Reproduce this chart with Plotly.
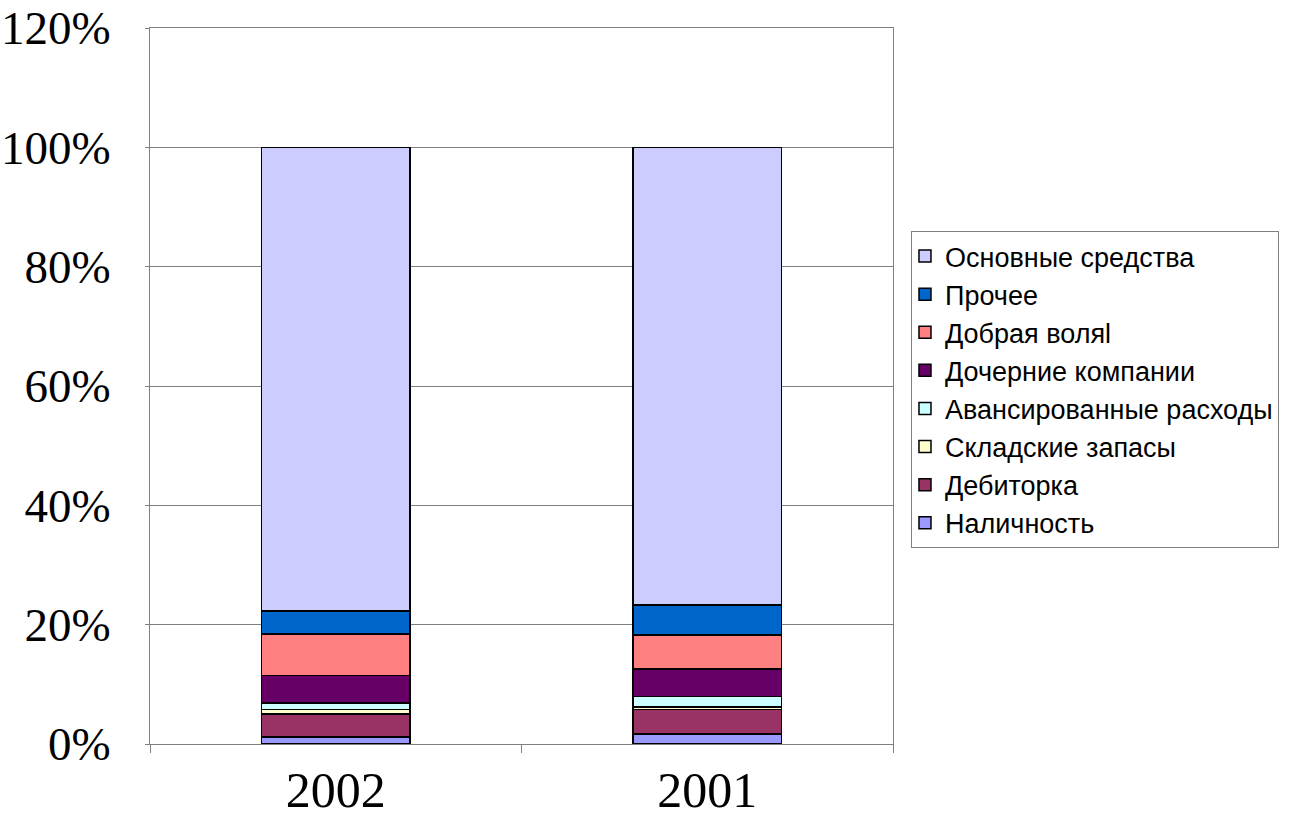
import plotly.graph_objects as go

# Структура активов, % от итога (снизу вверх по столбцу)
years = ["2002", "2001"]
series_names = [
    "Наличность",
    "Дебиторка",
    "Складские запасы",
    "Авансированные расходы",
    "Дочерние компании",
    "Добрая воляl",
    "Прочее",
    "Основные средства",
]
nalichnost = [1.2, 1.7]
debitorka = [3.8, 4.1]
zapasy = [0.8, 0.4]
avansy = [1.1, 1.8]
dochernie = [4.6, 4.6]
dobraya_volya = [6.9, 5.7]
prochee = [3.9, 5.0]
osnovnye = [77.7, 76.7]

series_values = [nalichnost, debitorka, zapasy, avansy,
                 dochernie, dobraya_volya, prochee, osnovnye]
colors = ["#9999FF", "#993366", "#FFFFCC", "#CCFFFF",
          "#660066", "#FF8080", "#0066CC", "#CCCCFF"]

fig = go.Figure()
for name, vals, col in zip(series_names, series_values, colors):
    fig.add_trace(go.Bar(
        x=years, y=vals, name=name,
        marker=dict(color=col, line=dict(color="black", width=1.5)),
    ))

fig.update_layout(
    barmode="stack",
    bargap=0.6,
    width=1307, height=818,
    margin=dict(l=150, r=414, t=28, b=74),
    plot_bgcolor="white",
    paper_bgcolor="white",
    showlegend=True,
    legend=dict(
        traceorder="reversed",
        x=1.0242, y=0.7165, xanchor="left", yanchor="top",
        bordercolor="#808080", borderwidth=1,
        font=dict(family="Liberation Sans, Arial", size=27, color="black"),
        itemwidth=30,
        indentation=-7,
    ),
)
fig.update_xaxes(
    type="category", automargin=False,
    showline=True, mirror=True, linecolor="#808080", linewidth=1,
    ticks="outside", tickson="boundaries", ticklen=8, tickcolor="#808080",
    ticklabelstandoff=2, ticklabeloverflow="allow",
    tickfont=dict(family="Liberation Serif, Times New Roman", size=50, color="black"),
    showgrid=False,
)
fig.update_yaxes(
    range=[0, 120], dtick=20, ticksuffix="%", automargin=False,
    showline=True, mirror=True, linecolor="#808080", linewidth=1,
    showgrid=True, gridcolor="#808080", gridwidth=1,
    ticks="outside", ticklen=4, tickcolor="#808080",
    ticklabelstandoff=25, ticklabeloverflow="allow",
    tickfont=dict(family="Liberation Serif, Times New Roman", size=47, color="black"),
    zeroline=False,
)

# убрать стандартный отступ body в 8px, чтобы график лег ровно в окно
fig.write_html("out.html", config={"displayModeBar": False},
               post_script="document.body.style.margin='0';")
